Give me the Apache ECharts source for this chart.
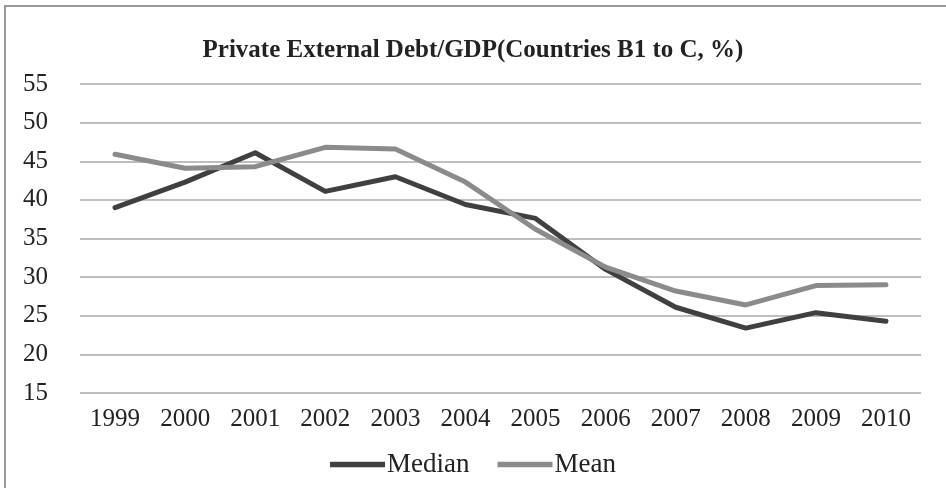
<!DOCTYPE html>
<html>
<head>
<meta charset="utf-8">
<script src="https://cdn.jsdelivr.net/npm/echarts@6/dist/echarts.min.js"></script>
<style>html,body{margin:0;padding:0;background:#fff}#c{width:946px;height:488px}</style>
</head>
<body>
<div id="c"></div>
<script>
const years = ['1999','2000','2001','2002','2003','2004','2005','2006','2007','2008','2009','2010'];
const median = [39.0, 42.3, 46.1, 41.1, 43.0, 39.4, 37.6, 31.0, 26.1, 23.4, 25.4, 24.3];
const mean = [45.9, 44.1, 44.3, 46.8, 46.6, 42.3, 36.2, 31.3, 28.2, 26.4, 28.9, 29.0];
const titleText = 'Private External Debt/GDP(Countries B1 to C, %)';
const font = '"Liberation Serif", "DejaVu Serif", serif';
const chart = echarts.init(document.getElementById('c'));
chart.setOption({
  animation: false,
  backgroundColor: '#fff',
  graphic: [{type:'rect', shape:{x:5, y:6, width:1000, height:1000}, style:{fill:'none', stroke:'#9a9a9a', lineWidth:2}, silent:true}],
  title: {text: titleText, left: 'center', top: 33, textStyle:{fontFamily:font, fontWeight:'bold', fontSize:25, color:'#222'}},
  legend: {bottom: 5, left: 'center', itemWidth: 55, itemHeight: 12, itemGap: 28,
    textStyle:{fontFamily:font, fontSize:27, color:'#222', padding:[0,0,0,-3]},
    data:[{name:'Median', icon:'path://M0,0 L10,0 L10,1 L0,1 Z'},{name:'Mean', icon:'path://M0,0 L10,0 L10,1 L0,1 Z'}]},
  grid: {left: 80, right: 25, top: 84, bottom: 95, outerBoundsMode: 'none', containLabel: false},
  xAxis: {type:'category', data: years, boundaryGap: true,
    axisLine:{show:false}, axisTick:{show:false},
    axisLabel:{fontFamily:font, fontSize:25, color:'#222', margin:14}},
  yAxis: {type:'value', min:15, max:55, interval:5,
    axisLine:{show:false}, axisTick:{show:false},
    axisLabel:{fontFamily:font, fontSize:25, color:'#222', margin:32},
    splitLine:{lineStyle:{color:'#a8a8a8', width:1.5}}},
  series: [
    {name:'Median', type:'line', data: median, symbol:'none', lineStyle:{width:5, color:'#404040', cap:'round', join:'round'}, itemStyle:{color:'#404040'}},
    {name:'Mean', type:'line', data: mean, symbol:'none', lineStyle:{width:5, color:'#8b8b8b', cap:'round', join:'round'}, itemStyle:{color:'#8b8b8b'}}
  ]
});
</script>
</body>
</html>
